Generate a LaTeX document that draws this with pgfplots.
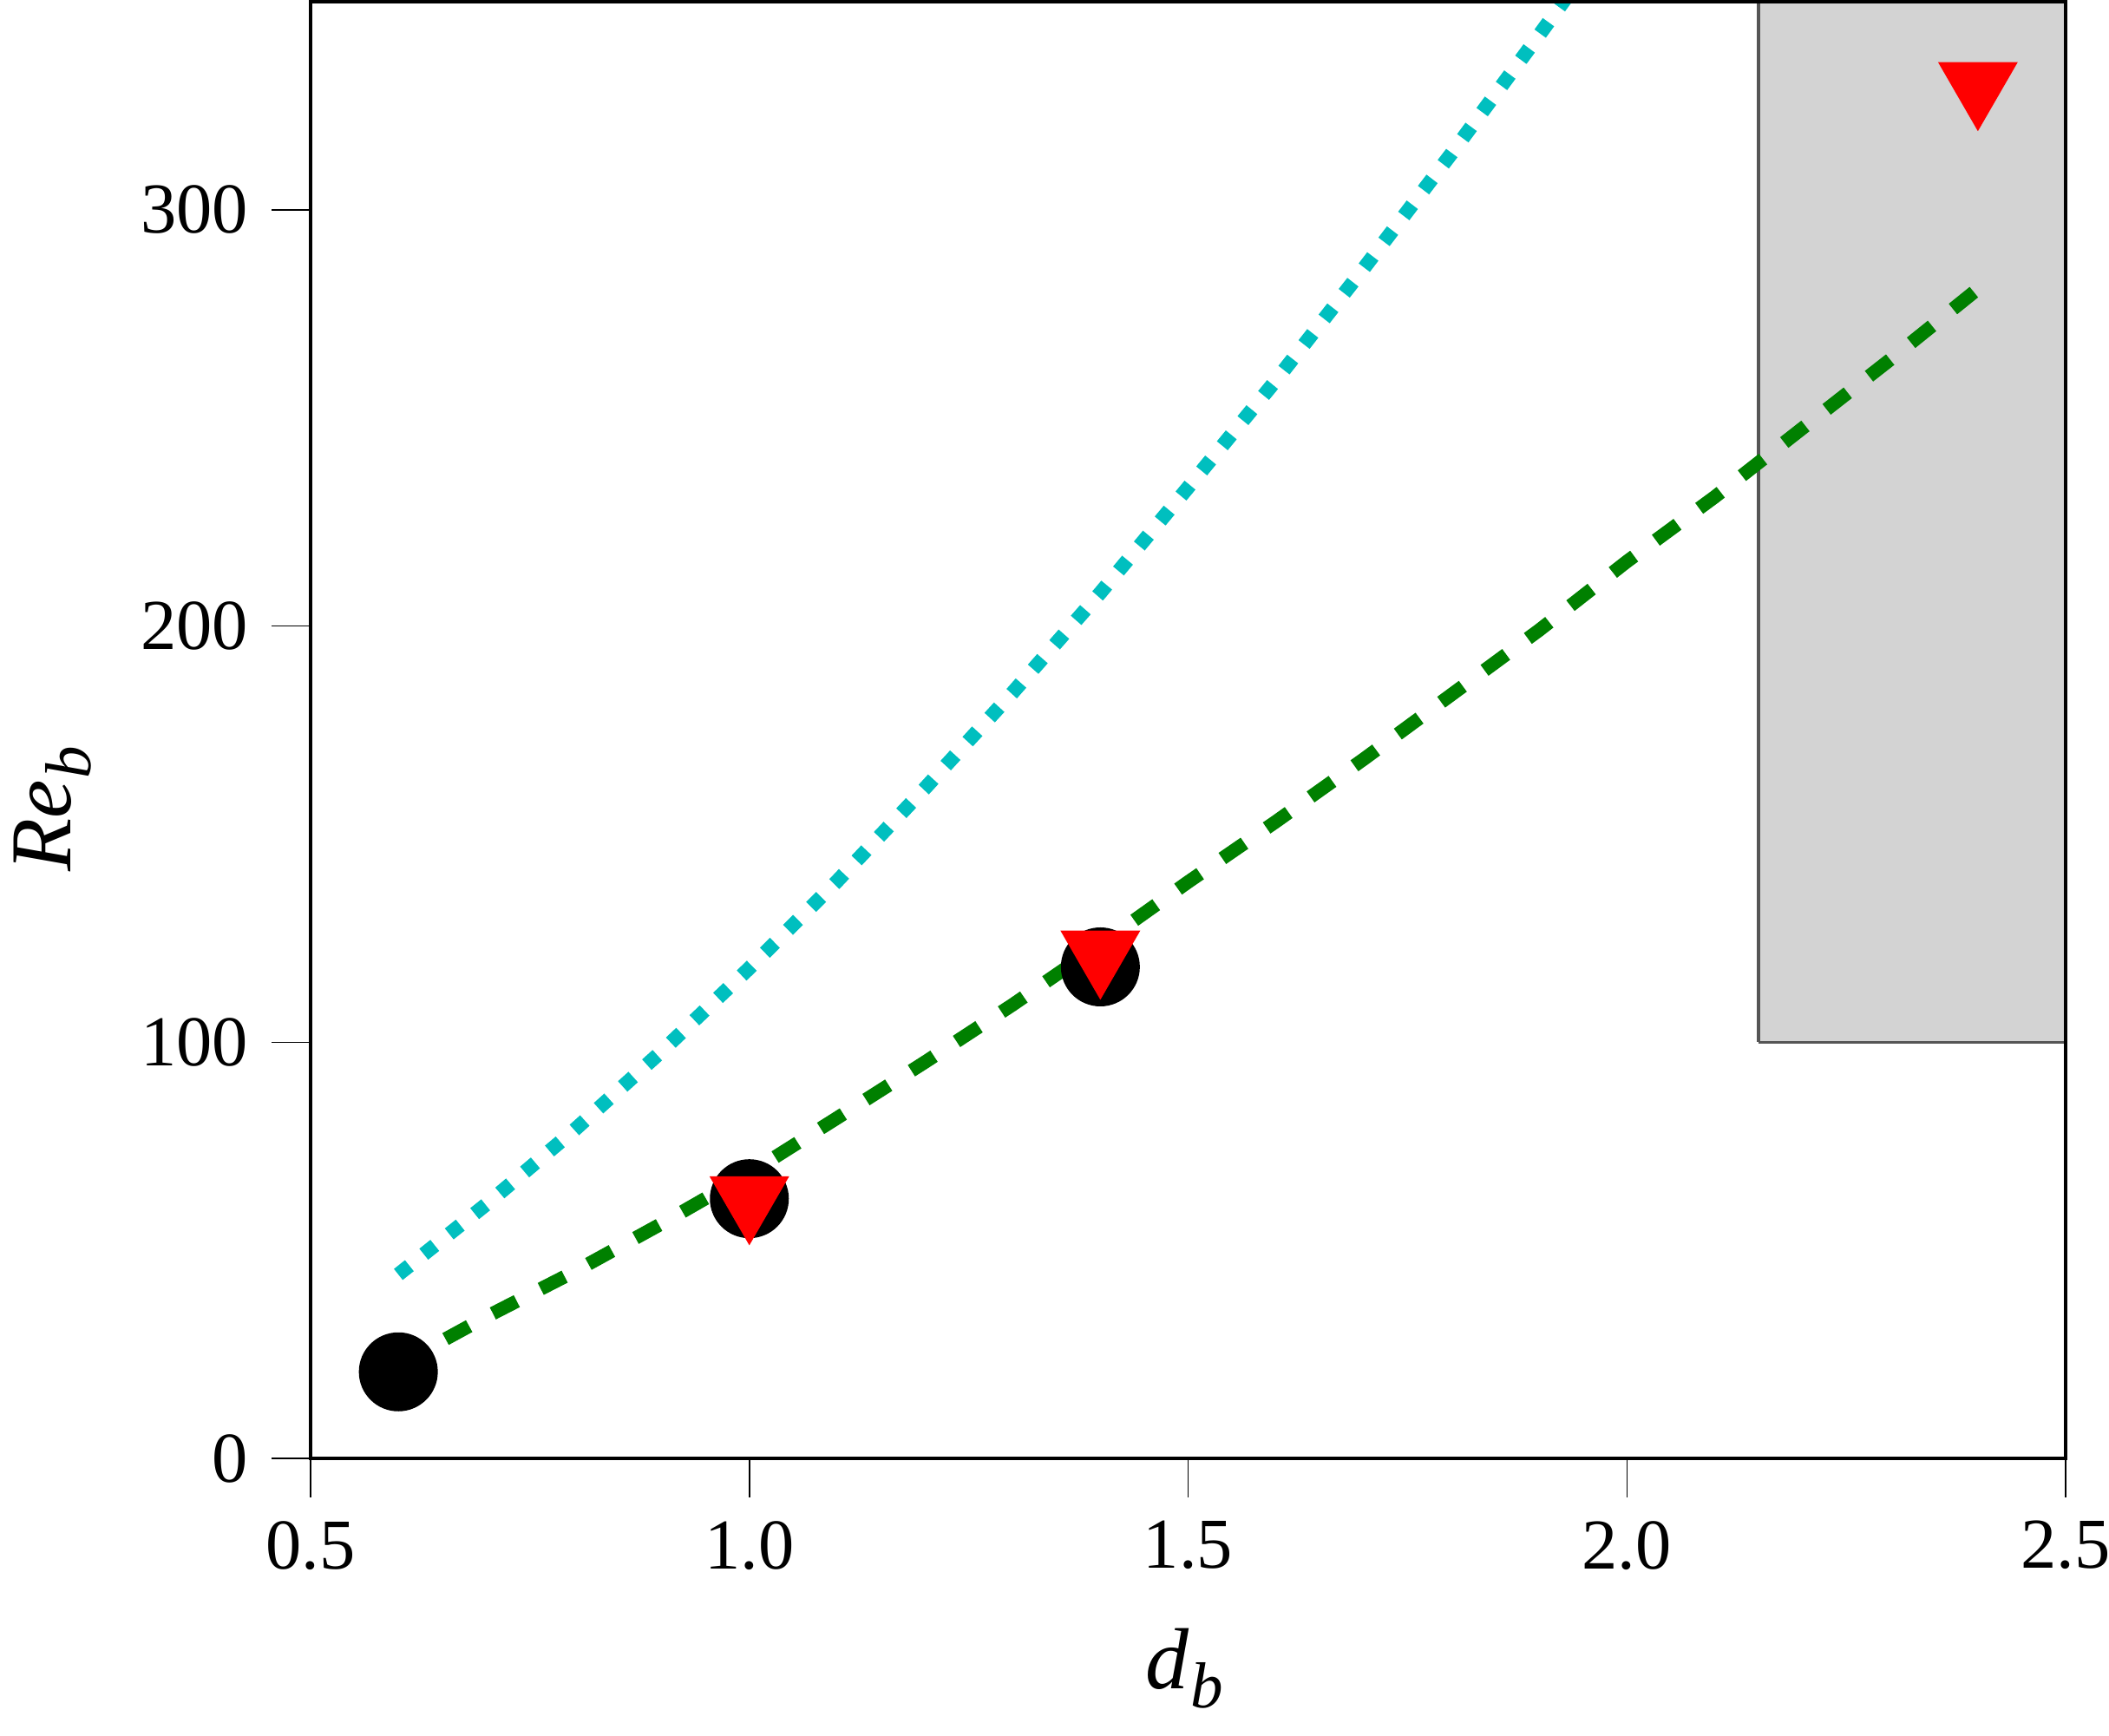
\documentclass[border=0pt]{standalone}
\usepackage{fontspec}
\setmainfont{Liberation Serif}
\usepackage{pgfplots}
\pgfplotsset{compat=1.18}

% downward triangle centred on its bounding box
\pgfdeclareplotmark{dtri}{%
  \pgfpathmoveto{\pgfqpoint{-\pgfplotmarksize}{0.866\pgfplotmarksize}}%
  \pgfpathlineto{\pgfqpoint{\pgfplotmarksize}{0.866\pgfplotmarksize}}%
  \pgfpathlineto{\pgfqpoint{0pt}{-0.866\pgfplotmarksize}}%
  \pgfpathclose
  \pgfusepathqfill}

\definecolor{mplgreen}{HTML}{008000}
\definecolor{mplcyan}{HTML}{00BFBF}
\definecolor{boxgray}{HTML}{D3D3D3}
\definecolor{boxedge}{HTML}{555555}

\newcommand{\sub}[1]{\kern0.4pt\raisebox{-4.5pt}{\fontsize{15}{15}\selectfont\textit{#1}}}

\begin{document}
\begin{tikzpicture}
\begin{axis}[
  scale only axis,
  width=404.6pt, height=335.8pt,
  xmin=0.5, xmax=2.5, ymin=0, ymax=350,
  xtick={0.5,1.0,1.5,2.0,2.5},
  ytick={0,100,200,300},
  xticklabel={\pgfmathprintnumber[fixed,fixed zerofill,precision=1]{\tick}},
  /pgf/number format/assume math mode=true,
  tick pos=left,
  tick align=outside,
  major tick length=8.9pt,
  every tick/.style={black, line width=0.3pt},
  axis line style={black, line width=0.75pt},
  tick label style={font=\fontsize{16.5}{19}\selectfont},
  xticklabel style={yshift=-2pt},
  yticklabel style={xshift=-2pt},
  label style={font=\fontsize{20}{24}\selectfont},
  xlabel={\textit{d}\sub{b}},
  ylabel={\textit{Re}\sub{b}},
  xlabel style={at={(axis description cs:0.4978,-0.1441)}, anchor=center},
  ylabel style={at={(axis description cs:-0.147,0.446)}, anchor=center},
  axis on top,
]
% shaded region
\addplot[draw=boxedge, fill=boxgray, line width=0.7pt] coordinates {
  (2.15,100) (2.5,100) (2.5,350) (2.15,350) (2.15,100)
};
% cyan dotted curve
\addplot[mplcyan, line width=3.25pt, dash pattern=on 3.25pt off 4.25pt] coordinates {
  (0.6,44.2) (0.7,61.0) (0.8,78.8) (0.9,97.8) (1.0,117.8) (1.1,138.7)
  (1.2,161.0) (1.3,184.0) (1.4,208.0) (1.5,233.3) (1.6,259.0) (1.7,285.9)
  (1.8,313.5) (1.9,342.0) (1.94,353.6)
};
% green dashed curve
\addplot[mplgreen, line width=3.1pt, dash pattern=on 6.2pt off 6.2pt] coordinates {
  (0.6,22.5) (0.7,34.0) (0.8,44.8) (0.9,56.4) (1.0,68.5) (1.1,81.8)
  (1.2,95.2) (1.3,109.0) (1.4,123.5) (1.5,138.5) (1.6,153.0) (1.7,168.0)
  (1.8,183.5) (1.9,199.0) (2.0,215.5) (2.1,231.0) (2.2,247.5) (2.3,264.0)
  (2.4,281.0)
};
% black circles
\addplot[only marks, mark=*, mark size=8.9pt, black] coordinates {
  (0.6,20.8) (1.0,62.4) (1.4,118.1)
};
% red triangles
\addplot[only marks, mark=dtri, mark size=9.2pt, red] coordinates {
  (1.0,59.5) (1.4,118.5) (2.4,327.2)
};
\end{axis}
\pgfresetboundingbox
\path[use as bounding box] (-71.6pt,-63.8pt) rectangle (414.6pt,336.2pt);
\end{tikzpicture}
\end{document}
